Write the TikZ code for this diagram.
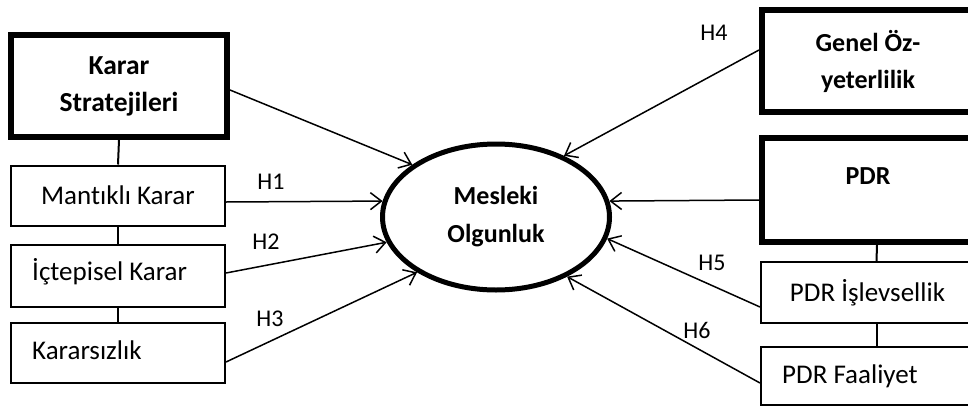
\documentclass[tikz,border=0pt]{standalone}
\usepackage{fontspec}
\setmainfont{Carlito}[Ligatures={NoCommon}]
\usetikzlibrary{arrows.meta,shapes.geometric}
\begin{document}
\begin{tikzpicture}[x=1pt,y=-1pt,
  thickbox/.style={draw, line width=6pt, inner sep=0pt, font=\bfseries\fontsize{26}{37}\selectfont, align=center},
  thinbox/.style={draw, line width=2pt, inner sep=0pt, font=\fontsize{27}{31}\selectfont},
  boxtext/.style={inner sep=0pt, anchor=base west, font=\fontsize{27}{31}\selectfont},
  arr/.style={line width=1.5pt, -{Straight Barb[length=11pt,width=17pt,line width=1.5pt]}},
  lab/.style={font=\fontsize{24}{28}\selectfont, inner sep=0pt},
  link/.style={line width=2pt}]
\clip (0,0) rectangle (968,407);
\fill[white] (0,0) rectangle (968,407);
% left column
\node[thickbox, minimum width=216pt, minimum height=102pt, font=\bfseries\fontsize{27.5}{37}\selectfont] (karar) at (119,86) {Karar\\Stratejileri};
\node[thinbox, minimum width=214pt, minimum height=60pt] (mant) at (118,195.5) {Mantıklı Karar};
\node[thinbox, minimum width=214pt, minimum height=62pt] (ict) at (118,275.5) {};
\node[boxtext] (ictt) at (32,280) {İçtepisel Karar};
\node[thinbox, minimum width=214pt, minimum height=60pt] (kars) at (118,353) {};
\node[boxtext] (karst) at (32,359) {Kararsızlık};
% ellipse
\node[ellipse, draw, line width=5pt, minimum width=227pt, minimum height=146pt, inner sep=0pt,
      font=\bfseries\fontsize{26}{38}\selectfont, align=center] (ell) at (496,217) {Mesleki\\Olgunluk};
% right column
\node[thickbox, minimum width=212pt, minimum height=102pt] (genel) at (868,61) {Genel Öz-\\yeterlilik};
\node[thickbox, minimum width=212pt, minimum height=104pt] (pdr) at (868,190) {};
\node[font=\bfseries\fontsize{26}{37}\selectfont, inner sep=0pt] (pdrt) at (868,176) {PDR};
\node[thinbox, minimum width=213pt, minimum height=61pt] (isl) at (867.5,292.5) {PDR İşlevsellik};
\node[thinbox, minimum width=213pt, minimum height=58pt] (faal) at (867.5,376) {};
\node[boxtext] (faalt) at (782,383) {PDR Faaliyet};
% links
\draw[link] (karar.south) -- (mant.north);
\draw[link] (mant.south) -- (ict.north);
\draw[link] (ict.south) -- (kars.north);
\draw[link] ([xshift=9pt]pdr.south) -- ([xshift=9pt]isl.north);
\draw[link] ([xshift=9pt]isl.south) -- ([xshift=9pt]faal.north);
% arrows
\draw[arr] ([yshift=-4pt]karar.east) -- (ell.148.5);
\draw[arr] ([yshift=-6.5pt]mant.east) -- (ell.172);
\draw[arr] ([yshift=2.5pt]ict.east) -- (ell.193.4);
\draw[arr] ([yshift=-9pt]kars.east) -- (ell.215.3);
\draw[arr] ([yshift=11pt]genel.west) -- (ell.42);
\draw[arr] ([yshift=-10pt]pdr.west) -- (ell.8.6);
\draw[arr] ([yshift=-14.5pt]isl.west) -- (ell.-11.6);
\draw[arr] ([yshift=-7pt]faal.west) -- (ell.-40.7);
% labels
\node[lab] (h1) at (271,182) {H1};
\node[lab] (h2) at (266,242) {H2};
\node[lab] (h3) at (270,319) {H3};
\node[lab] (h4) at (714,33) {H4};
\node[lab] (h5) at (712,263) {H5};
\node[lab] (h6) at (697,330) {H6};
\end{tikzpicture}
\end{document}
